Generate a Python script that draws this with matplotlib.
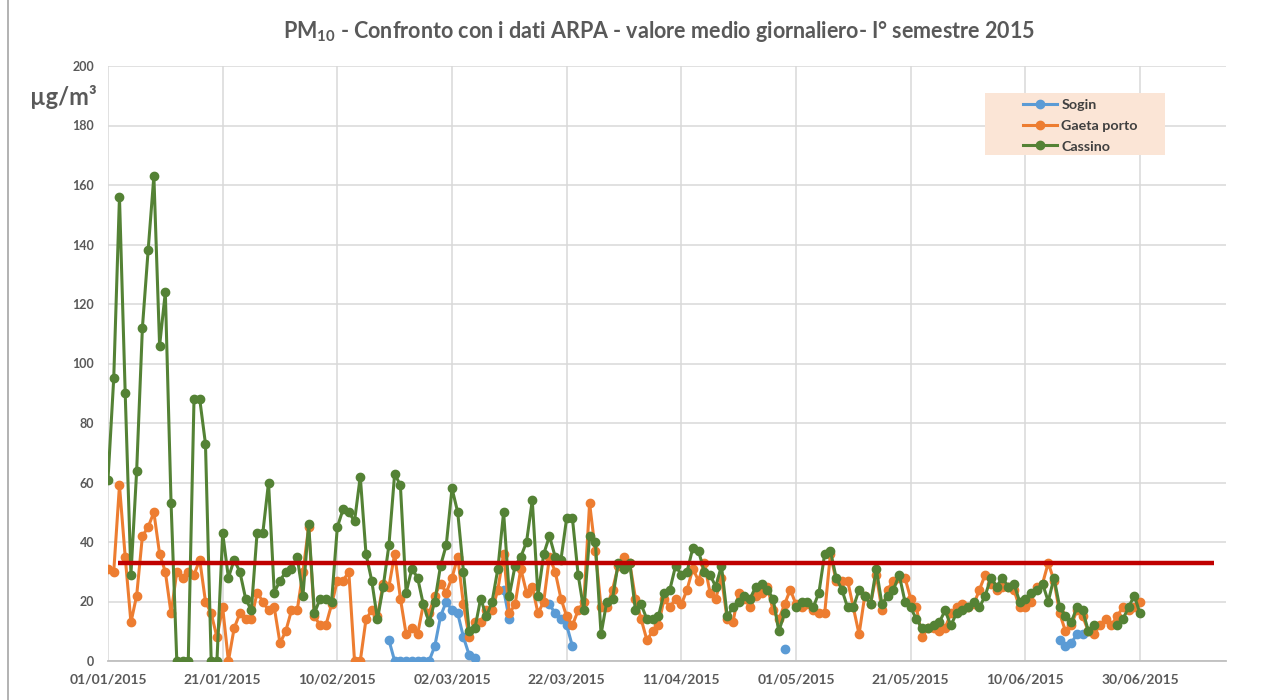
import numpy as np
import pandas as pd
import matplotlib
matplotlib.use("Agg")
import matplotlib.pyplot as plt
from matplotlib.lines import Line2D
from matplotlib.patches import Rectangle

# -----------------------------
# Data (daily means, µg/m3), 01/01/2015 -> 30/06/2015
# -----------------------------
_ = np.nan
dates = pd.date_range("2015-01-01", "2015-06-30", freq="D")

sogin = [
    _, _, _, _, _, _, _, _, _, _,
    _, _, _, _, _, _, _, _, _, _,
    _, _, _, _, _, _, _, _, _, _,
    _, _, _, _, _, _, _, _, _, _,
    _, _, _, _, _, _, _, _, _, 7,
    0, 0, 0, 0, 0, 0, 0, 5, 15, 20,
    17, 16, 8, 2, 1, _, _, _, _, 24,
    14, _, _, _, _, _, _, 19, 16, 14,
    12, 5, _, _, _, _, _, _, _, _,
    _, _, _, _, _, _, _, _, _, _,
    _, _, _, _, _, _, _, _, _, _,
    _, _, _, _, _, _, _, _, 4, _,
    _, _, _, _, _, _, _, _, _, _,
    _, _, _, _, _, _, _, _, _, _,
    _, _, _, _, _, _, _, _, _, _,
    _, _, _, _, _, _, _, _, _, _,
    _, _, _, _, _, _, 7, 5, 6, 9,
    9, _, _, _, _, _, _, _, _, _,
    _,
]

gaeta = [
    31, 30, 59, 35, 13, 22, 42, 45, 50, 36,
    30, 16, 30, 28, 30, 29, 34, 20, 16, 8,
    18, 0, 11, 16, 14, 14, 23, 20, 17, 18,
    6, 10, 17, 17, 30, 45, 15, 12, 12, 19,
    27, 27, 30, 0, 0, 14, 17, 15, 26, 25,
    36, 21, 9, 11, 9, 19, 16, 22, 26, 23,
    28, 35, 19, 8, 13, 13, 17, 17, 24, 36,
    16, 19, 31, 23, 25, 16, 20, 35, 30, 21,
    15, 12, 17, 20, 53, 37, 18, 18, 24, 32,
    35, 33, 21, 14, 7, 10, 12, 21, 18, 21,
    19, 24, 31, 27, 33, 23, 21, 28, 14, 13,
    23, 21, 18, 22, 23, 25, 17, 14, 19, 24,
    19, 18, 19, 17, 16, 16, 36, 27, 27, 27,
    18, 9, 22, 19, 29, 17, 24, 27, 28, 28,
    21, 18, 8, 11, 11, 10, 11, 16, 18, 19,
    18, 19, 24, 29, 26, 24, 25, 25, 24, 18,
    18, 20, 25, 26, 33, 27, 16, 10, 12, 17,
    15, 10, 9, 12, 14, 12, 15, 18, 17, 18,
    20,
]

cassino = [
    61, 95, 156, 90, 29, 64, 112, 138, 163, 106,
    124, 53, 0, 0, 0, 88, 88, 73, 0, 0,
    43, 28, 34, 30, 21, 17, 43, 43, 60, 23,
    27, 30, 31, 35, 22, 46, 16, 21, 21, 20,
    45, 51, 50, 47, 62, 36, 27, 14, 25, 39,
    63, 59, 23, 31, 28, 19, 13, 20, 32, 39,
    58, 50, 30, 10, 11, 21, 15, 20, 31, 50,
    22, 32, 35, 40, 54, 22, 36, 42, 35, 34,
    48, 48, 29, 17, 42, 40, 9, 20, 21, 33,
    31, 33, 17, 19, 14, 14, 15, 23, 24, 32,
    29, 30, 38, 37, 30, 29, 25, 32, 15, 18,
    20, 22, 21, 25, 26, 24, 21, 10, 16, _,
    18, 20, 20, 18, 23, 36, 37, 28, 24, 18,
    18, 24, 22, 19, 31, 19, 22, 24, 29, 20,
    18, 14, 11, 11, 12, 13, 17, 12, 16, 17,
    18, 20, 18, 22, 28, 25, 28, 25, 26, 20,
    21, 23, 24, 26, 20, 28, 18, 15, 13, 18,
    17, 10, 12, _, _, _, 12, 14, 18, 22,
    16,
]

series_names  = ["Sogin", "Gaeta porto", "Cassino"]
series_colors = ["#5B9BD5", "#ED7D31", "#548235"]

limit_value = 33
limit_span  = ("2015-01-02 18:00", "2015-07-12 22:00")

tick_dates  = pd.date_range("2015-01-01", periods=10, freq="20D")
tick_labels = [d.strftime("%d/%m/%Y") for d in tick_dates]
x_range     = ("2015-01-01", "2015-07-15")

title = "PM$_{\\mathrm{10}}$ - Confronto con i dati ARPA - valore medio giornaliero- I° semestre 2015"

# -----------------------------
# Style
# -----------------------------
plt.rcParams["font.family"] = ["Lato", "DejaVu Sans"]
plt.rcParams["font.weight"] = "bold"
plt.rcParams["mathtext.fontset"] = "custom"
plt.rcParams["mathtext.rm"] = "Lato:bold"
plt.rcParams["mathtext.bf"] = "Lato:bold"
plt.rcParams["mathtext.it"] = "Lato:bold:italic"
TEXT = "#595959"
GRID = "#D9D9D9"

W, H = 1282, 700
fig = plt.figure(figsize=(W / 100, H / 100), dpi=100)
ax = fig.add_axes([108 / W, 1 - 661 / H, (1226 - 108) / W, (661 - 66) / H])

# chart area border (left edge visible)
fig.add_artist(Line2D([8 / W, 8 / W], [0, 1], color="#A6A6A6", lw=1.2,
                      transform=fig.transFigure))

# -----------------------------
# Plot
# -----------------------------
for vals, name, col in zip([sogin, gaeta, cassino], series_names, series_colors):
    ax.plot(dates, np.array(vals, dtype=float), color=col, lw=2.2,
            marker="o", ms=6, mec=col, mfc=col, label=name, zorder=3)

ax.plot(pd.to_datetime(list(limit_span)), [limit_value, limit_value],
        color="#C00000", lw=3.2, zorder=4, solid_capstyle="butt")

ax.set_xlim(pd.to_datetime(x_range[0]), pd.to_datetime(x_range[1]))
ax.set_ylim(0, 200)
ax.set_yticks(np.arange(0, 201, 20))
ax.set_xticks(tick_dates)
ax.set_xticklabels(tick_labels)

ax.grid(True, color=GRID, lw=1.1, zorder=0)
ax.set_axisbelow(True)
for side in ["top", "right", "left"]:
    ax.spines[side].set_visible(False)
ax.spines["bottom"].set_color("#BFBFBF")
ax.spines["bottom"].set_linewidth(1.3)
ax.tick_params(axis="both", length=0, colors=TEXT)
ax.tick_params(axis="y", labelsize=9, pad=10)
ax.tick_params(axis="x", labelsize=10, pad=9)
for lab in ax.get_xticklabels() + ax.get_yticklabels():
    lab.set_fontweight("bold")

fig.text(659 / W, 1 - 32 / H, title, ha="center", va="center",
         fontsize=15.5, fontweight="bold", color=TEXT)
fig.text(63 / W, 1 - 97 / H, "µg/m³", ha="center", va="center",
         fontsize=17, fontweight="bold", color=TEXT)

# legend box
fig.add_artist(Rectangle((985 / W, 1 - 155 / H), 180 / W, 62 / H,
                         transform=fig.transFigure, facecolor="#FBE5D6",
                         edgecolor="none", zorder=5))
leg = fig.legend(loc="upper left", bbox_to_anchor=(1017 / W, 1 - 93 / H),
                 frameon=False, fontsize=10.3, handlelength=2.4,
                 handletextpad=0.3, labelspacing=0.62, borderaxespad=0)
leg.set_zorder(6)
for t in leg.get_texts():
    t.set_color("#404040")
    t.set_fontweight("bold")

fig.savefig("out.png", dpi=100)
